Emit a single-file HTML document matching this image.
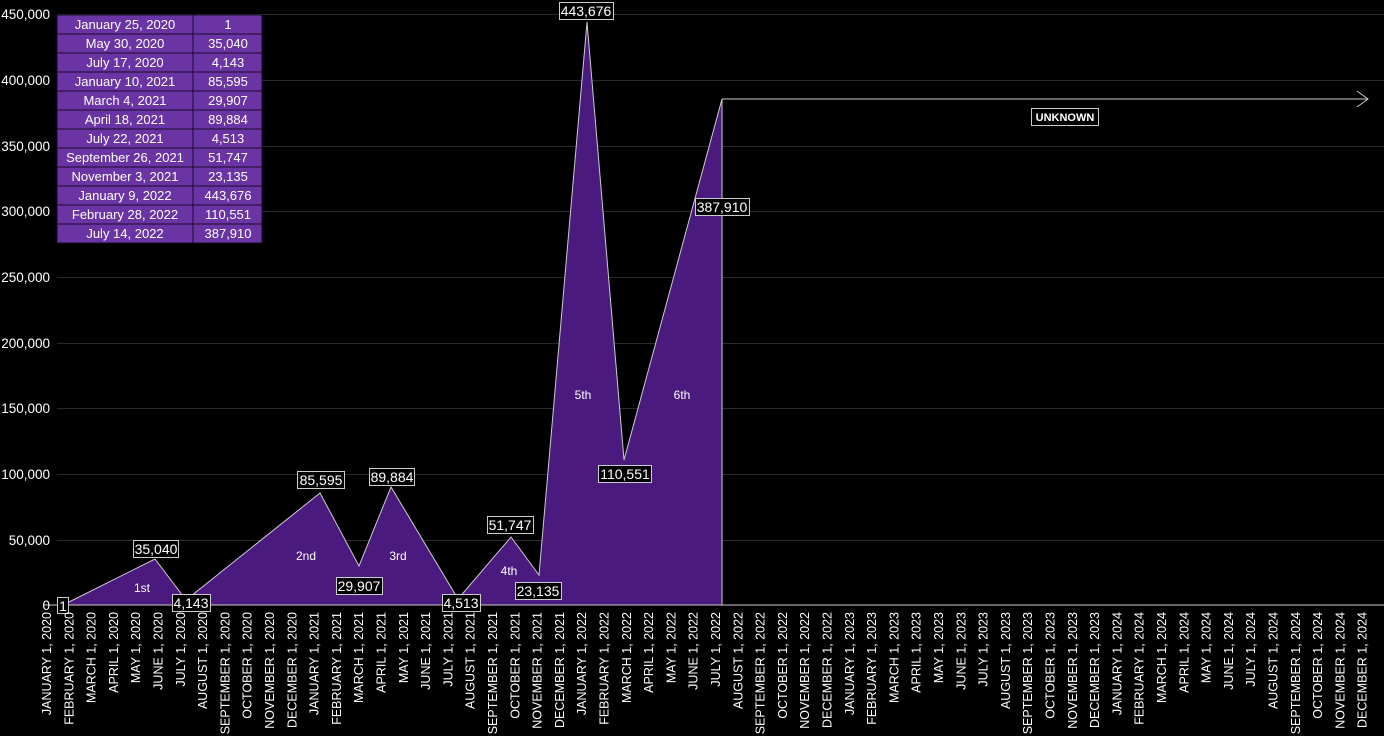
<!DOCTYPE html>
<html><head><meta charset="utf-8"><style>
html,body{margin:0;padding:0;background:#000;}
svg{display:block;font-family:"Liberation Sans",sans-serif;}
</style></head><body>
<svg width="1384" height="736" viewBox="0 0 1384 736" xmlns="http://www.w3.org/2000/svg">
<g stroke="#2a2a2a" stroke-width="1">
<line x1="57" y1="14.5" x2="1384" y2="14.5"/>
<line x1="57" y1="80.5" x2="1384" y2="80.5"/>
<line x1="57" y1="146.5" x2="1384" y2="146.5"/>
<line x1="57" y1="211.5" x2="1384" y2="211.5"/>
<line x1="57" y1="277.5" x2="1384" y2="277.5"/>
<line x1="57" y1="343.5" x2="1384" y2="343.5"/>
<line x1="57" y1="408.5" x2="1384" y2="408.5"/>
<line x1="57" y1="474.5" x2="1384" y2="474.5"/>
<line x1="57" y1="540.5" x2="1384" y2="540.5"/>
</g>
<line x1="44" y1="605" x2="1384" y2="605" stroke="#ccc" stroke-width="1"/>
<g fill="#fff" font-size="13.5" text-anchor="end">
<text x="50" y="19">450,000</text>
<text x="50" y="85">400,000</text>
<text x="50" y="151">350,000</text>
<text x="50" y="216">300,000</text>
<text x="50" y="282">250,000</text>
<text x="50" y="348">200,000</text>
<text x="50" y="413">150,000</text>
<text x="50" y="479">100,000</text>
<text x="50" y="545">50,000</text>
<text x="50" y="610">0</text>
</g>
<polygon points="63,605 155,559 186,600 320,493 359,566 391,487 458,599 511,537 539,575 587,22 624,460 722,99 722,605" fill="#4a1a7e" stroke="#ccc" stroke-width="1"/>
<line x1="722" y1="99" x2="1368" y2="99" stroke="#ccc"/>
<polyline points="1357,91 1368,99 1357,107" fill="none" stroke="#ccc"/>
<rect x="1031.5" y="108.5" width="67" height="17" fill="#000" stroke="#ccc"/>
<text x="1065" y="121" fill="#fff" font-size="11" font-weight="bold" text-anchor="middle">UNKNOWN</text>
<g fill="#fff" font-size="12" text-anchor="middle">
<text x="142" y="592">1st</text><text x="306" y="560">2nd</text><text x="398" y="560">3rd</text>
<text x="509" y="575">4th</text><text x="583" y="399">5th</text><text x="682" y="399">6th</text>
</g>
<g font-size="14" fill="#fff" text-anchor="middle">
<g stroke="#ccc" fill="#000">
<rect x="57.5" y="597.5" width="11" height="16"/>
<rect x="133.5" y="540.5" width="45" height="17"/>
<rect x="172.5" y="594.5" width="38" height="17"/>
<rect x="297.5" y="471.5" width="47" height="17"/>
<rect x="336.5" y="577.5" width="46" height="17"/>
<rect x="369.5" y="468.5" width="45" height="17"/>
<rect x="442.5" y="594.5" width="38" height="17"/>
<rect x="487.5" y="516.5" width="46" height="17"/>
<rect x="515.5" y="582.5" width="46" height="17"/>
<rect x="559.5" y="2.5" width="54" height="17"/>
<rect x="598.5" y="465.5" width="53" height="17"/>
<rect x="695.5" y="198.5" width="54" height="17"/>
</g>
<text x="63" y="611">1</text>
<text x="156" y="554">35,040</text>
<text x="191" y="608">4,143</text>
<text x="321" y="485">85,595</text>
<text x="359" y="591">29,907</text>
<text x="392" y="482">89,884</text>
<text x="461" y="608">4,513</text>
<text x="510" y="530">51,747</text>
<text x="538" y="596">23,135</text>
<text x="586" y="16">443,676</text>
<text x="625" y="479">110,551</text>
<text x="722" y="212">387,910</text>
</g>
<g font-size="13" fill="#fff">
<g fill="#6a34a4" stroke="#1a0a2a" stroke-width="1">
<rect x="57" y="15" width="136" height="19"/><rect x="193" y="15" width="69" height="19"/>
<rect x="57" y="34" width="136" height="19"/><rect x="193" y="34" width="69" height="19"/>
<rect x="57" y="53" width="136" height="19"/><rect x="193" y="53" width="69" height="19"/>
<rect x="57" y="72" width="136" height="19"/><rect x="193" y="72" width="69" height="19"/>
<rect x="57" y="91" width="136" height="19"/><rect x="193" y="91" width="69" height="19"/>
<rect x="57" y="110" width="136" height="19"/><rect x="193" y="110" width="69" height="19"/>
<rect x="57" y="129" width="136" height="19"/><rect x="193" y="129" width="69" height="19"/>
<rect x="57" y="148" width="136" height="19"/><rect x="193" y="148" width="69" height="19"/>
<rect x="57" y="167" width="136" height="19"/><rect x="193" y="167" width="69" height="19"/>
<rect x="57" y="186" width="136" height="19"/><rect x="193" y="186" width="69" height="19"/>
<rect x="57" y="205" width="136" height="19"/><rect x="193" y="205" width="69" height="19"/>
<rect x="57" y="224" width="136" height="19"/><rect x="193" y="224" width="69" height="19"/>
</g>
<g text-anchor="middle">
<text x="125" y="29">January 25, 2020</text><text x="228" y="29">1</text>
<text x="125" y="48">May 30, 2020</text><text x="228" y="48">35,040</text>
<text x="125" y="67">July 17, 2020</text><text x="228" y="67">4,143</text>
<text x="125" y="86">January 10, 2021</text><text x="228" y="86">85,595</text>
<text x="125" y="105">March 4, 2021</text><text x="228" y="105">29,907</text>
<text x="125" y="124">April 18, 2021</text><text x="228" y="124">89,884</text>
<text x="125" y="143">July 22, 2021</text><text x="228" y="143">4,513</text>
<text x="125" y="162">September 26, 2021</text><text x="228" y="162">51,747</text>
<text x="125" y="181">November 3, 2021</text><text x="228" y="181">23,135</text>
<text x="125" y="200">January 9, 2022</text><text x="228" y="200">443,676</text>
<text x="125" y="219">February 28, 2022</text><text x="228" y="219">110,551</text>
<text x="125" y="238">July 14, 2022</text><text x="228" y="238">387,910</text>
</g>
</g>
<g id="xl" fill="#fff" font-size="12.5" text-anchor="end"></g>
<script>
(function(){
var m=["JANUARY","FEBRUARY","MARCH","APRIL","MAY","JUNE","JULY","AUGUST","SEPTEMBER","OCTOBER","NOVEMBER","DECEMBER"];
var g=document.getElementById("xl"),ns="http://www.w3.org/2000/svg";
for(var i=0;i<60;i++){var x=46+i*22.3+5;var t=document.createElementNS(ns,"text");
t.setAttribute("transform","translate("+x.toFixed(1)+",612) rotate(-90)");
t.textContent=m[i%12]+" 1, "+(2020+Math.floor(i/12));g.appendChild(t);}
})();
</script>
</svg>
</body></html>
